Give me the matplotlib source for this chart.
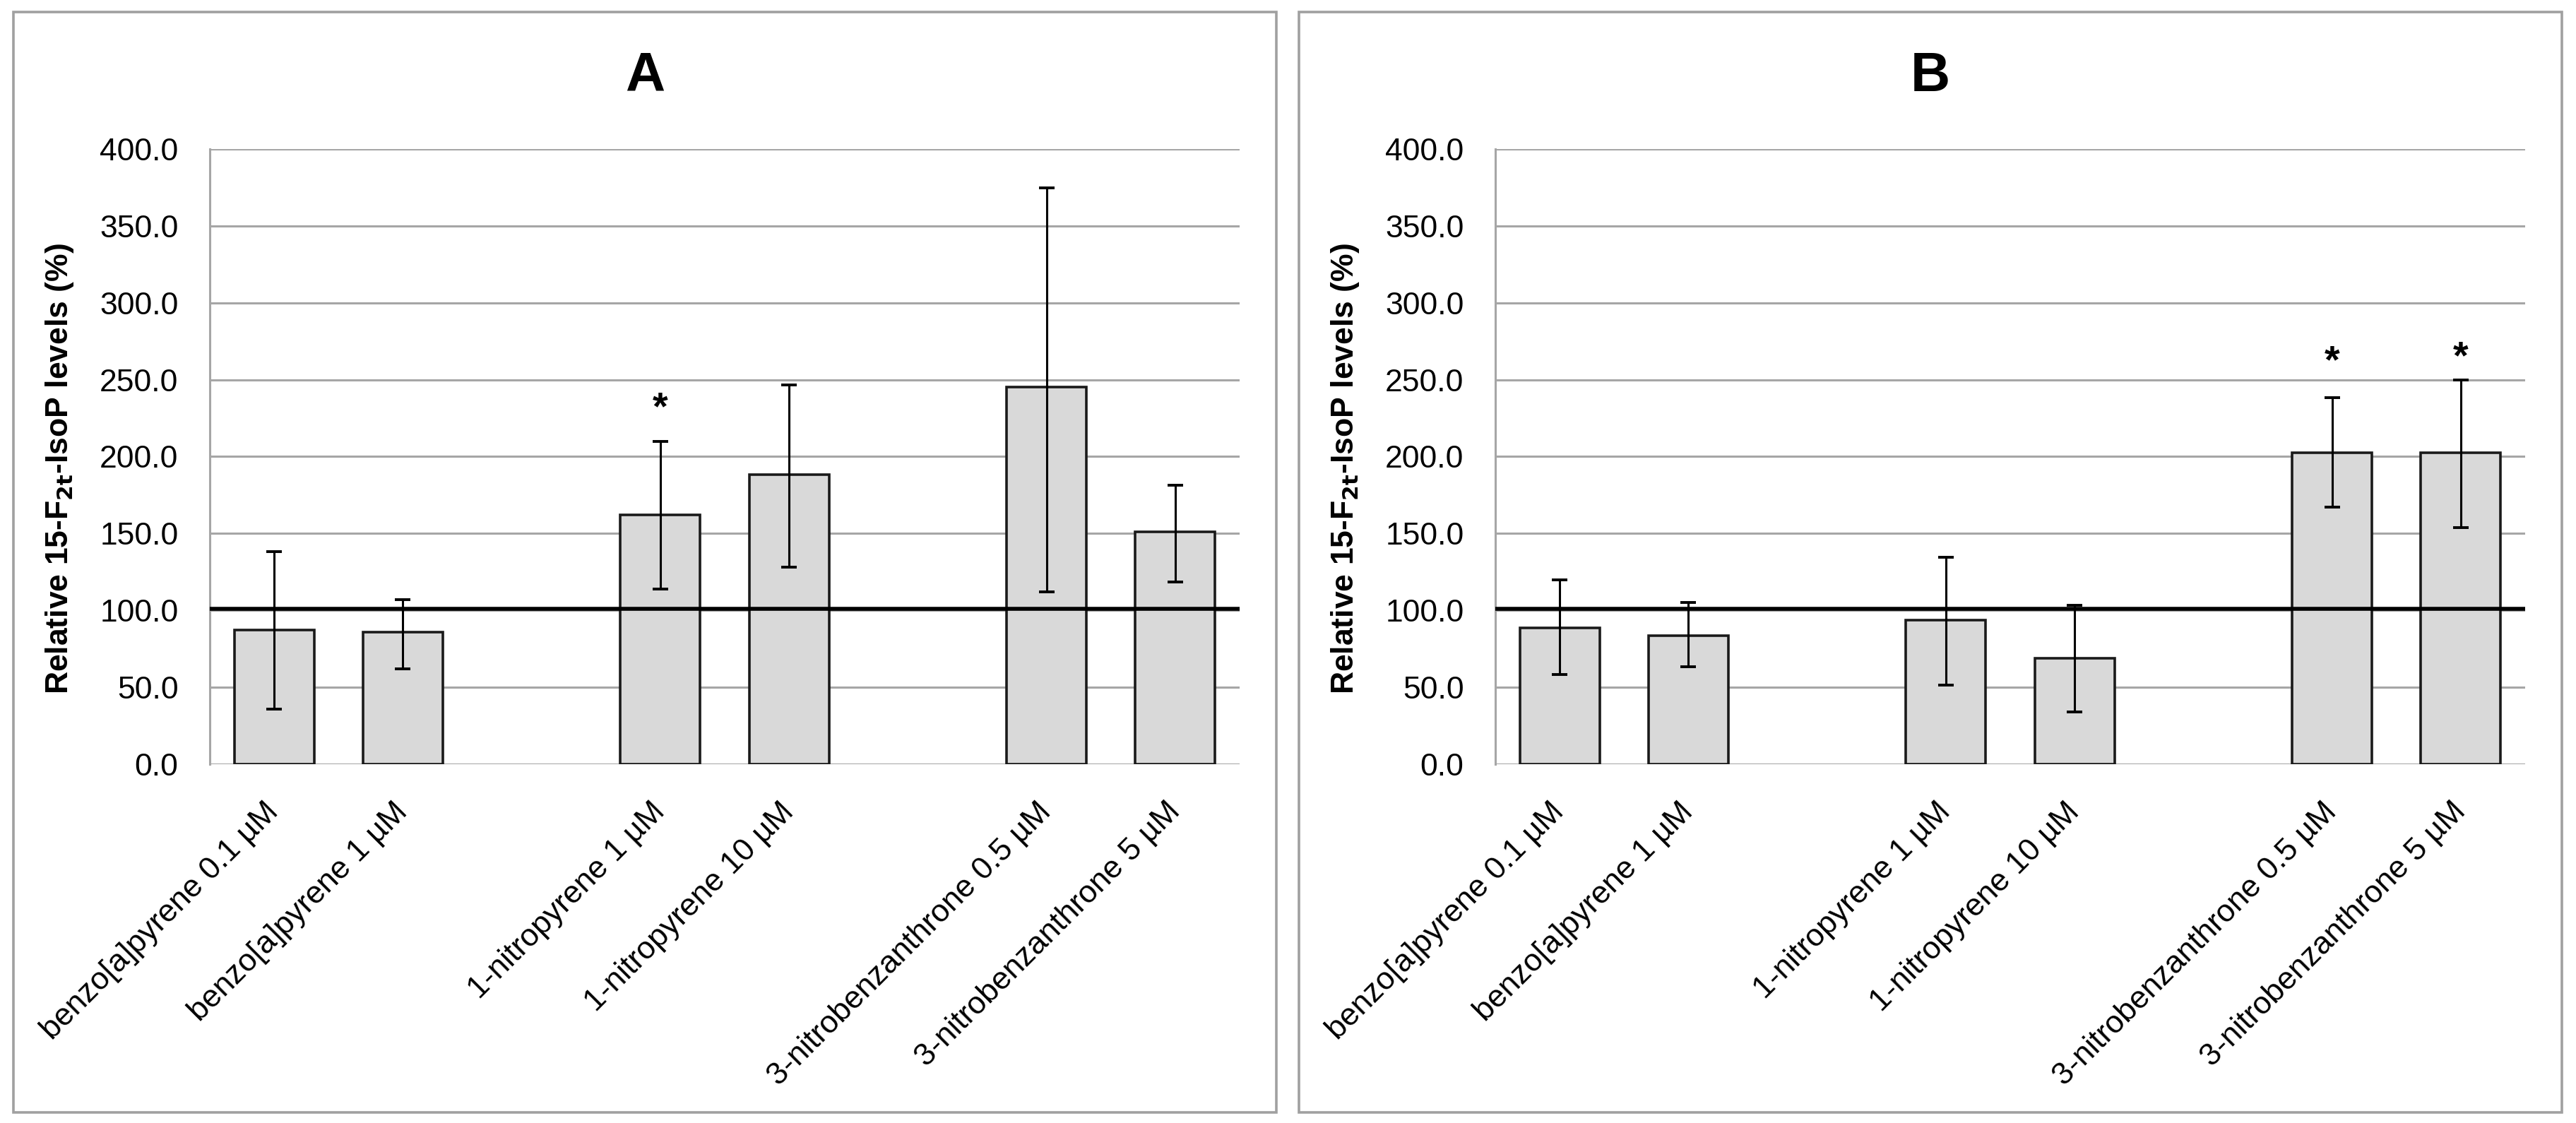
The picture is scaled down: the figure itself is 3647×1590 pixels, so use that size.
import numpy as np
import matplotlib
matplotlib.use('Agg')
import matplotlib.pyplot as plt
from matplotlib.patches import Rectangle

plt.rcParams['font.family'] = ['Liberation Sans Narrow', 'Liberation Sans', 'DejaVu Sans']

# data
labels = ['benzo[a]pyrene 0.1 µM', 'benzo[a]pyrene 1 µM',
          '1-nitropyrene 1 µM', '1-nitropyrene 10 µM',
          '3-nitrobenzanthrone 0.5 µM', '3-nitrobenzanthrone 5 µM']
slots = [0, 1, 3, 4, 6, 7]

a_mean = [87.4, 85.9, 162.0, 188.2, 245.2, 151.0]
a_hi = [138.0, 107.0, 209.8, 246.8, 374.9, 181.6]
a_lo = [35.6, 61.8, 113.8, 128.0, 111.9, 118.3]
a_star = [None, None, 231, None, None, None]

b_mean = [88.7, 83.6, 93.9, 69.1, 202.5, 202.5]
b_hi = [119.7, 105.0, 134.4, 103.1, 238.5, 250.0]
b_lo = [58.2, 63.4, 51.5, 33.8, 167.0, 154.0]
b_star = [None, None, None, None, 261, 264]

control = 101.0
yticks = [0, 50, 100, 150, 200, 250, 300, 350, 400]

grid_col = '#a6a6a6'

fig = plt.figure(figsize=(18.24, 7.95), dpi=200)

def panel(left, title, mean, hi, lo, stars):
    # grey frame round each chart
    fig.patches.append(Rectangle((left - 0.0762, 0.0094), 0.4901, 0.9799,
                                 transform=fig.transFigure, fill=False,
                                 edgecolor='#a0a0a0', linewidth=1.3, zorder=0))
    fig.text(left - 0.0762 + 0.4901 / 2, 0.932, title, ha='center', va='center',
             fontsize=28, fontweight='bold')
    ax = fig.add_axes([left, 0.3195, 0.3997, 0.5478])
    mean = np.array(mean)
    err = [mean - np.array(lo), np.array(hi) - mean]
    ax.bar(slots, mean, width=0.62, color='#d9d9d9', edgecolor='#1a1a1a',
           linewidth=1.3, zorder=2)
    ax.errorbar(slots, mean, yerr=err, fmt='none', ecolor='black',
                elinewidth=1.1, capsize=4, capthick=1.4, zorder=4)
    ax.axhline(control, color='black', linewidth=2.0, zorder=3)
    for x, s in zip(slots, stars):
        if s is not None:
            ax.text(x, s, '*', ha='center', va='center',
                    fontsize=20, fontweight='bold')
    ax.set_xlim(-0.5, 7.5)
    ax.set_ylim(0, 400)
    ax.set_yticks(yticks)
    ax.set_yticklabels(['%.1f' % v for v in yticks], fontsize=16)
    ax.yaxis.grid(True, color=grid_col, linewidth=1.1, zorder=0)
    ax.set_axisbelow(True)
    ax.set_xticks(slots)
    ax.set_xticklabels(labels, rotation=45, ha='right', va='center',
                       rotation_mode='anchor', fontsize=16)
    ax.tick_params(axis='both', length=0)
    ax.tick_params(axis='y', pad=16)
    ax.tick_params(axis='x', pad=22)
    for s in ['top', 'right', 'bottom']:
        ax.spines[s].set_visible(False)
    ax.spines['left'].set_color(grid_col)
    ax.spines['left'].set_linewidth(1.1)
    ax.set_ylabel(r'Relative 15-F$_{\mathbf{2t}}$-IsoP levels (%)',
                  fontsize=16, fontweight='bold')
    ax.yaxis.set_label_coords(-0.13, 0.48)
    return ax

panel(0.0814, 'A', a_mean, a_hi, a_lo, a_star)
panel(0.5803, 'B', b_mean, b_hi, b_lo, b_star)

fig.savefig('out.png', dpi=200)
